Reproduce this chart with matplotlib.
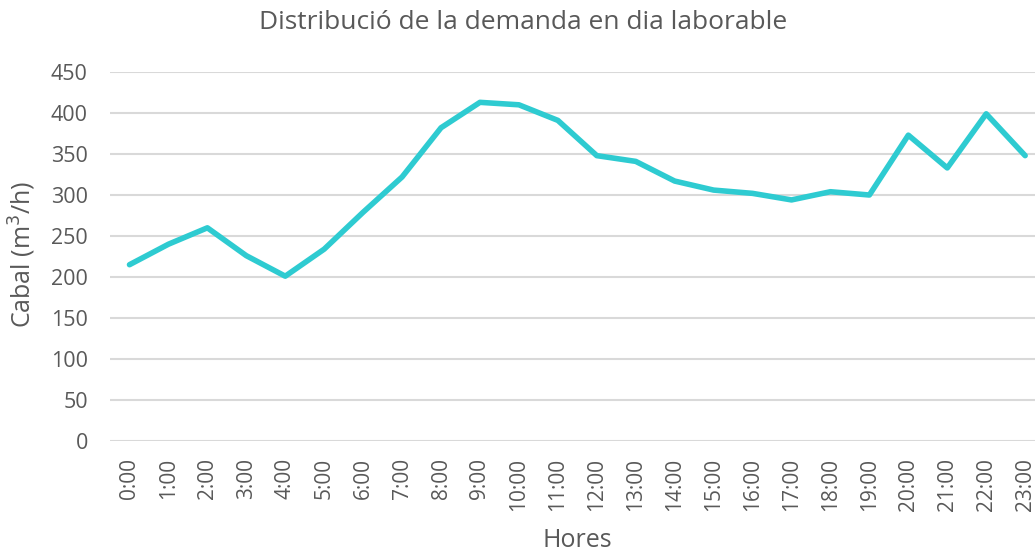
import matplotlib
matplotlib.use("Agg")
import matplotlib.pyplot as plt

hours = [f"{h}:00" for h in range(24)]
demand = [215, 240, 260, 226, 201, 234, 279, 322, 382, 413, 410, 391,
          348, 341, 317, 306, 302, 294, 304, 300, 373, 333, 399, 348]

grey = "#595959"
plt.rcParams["font.family"] = ["Open Sans", "DejaVu Sans"]

fig = plt.figure(figsize=(10.35, 5.53), dpi=100)
ax = fig.add_axes([0.1063, 0.2025, 0.903, 0.6673])

ax.plot(range(len(hours)), demand, color="#2ECBD1", linewidth=4,
        solid_joinstyle="round", solid_capstyle="round")

ax.set_xlim(-0.5, len(hours) - 0.5)
ax.set_ylim(0, 450)
ax.set_yticks(range(0, 451, 50))
ax.set_xticks(range(len(hours)))
ax.set_xticklabels(hours, rotation=90, fontsize=15, color=grey)
ax.tick_params(axis="y", labelsize=15.5, labelcolor=grey, length=0, pad=16)
ax.tick_params(axis="x", length=0, pad=12)

ax.grid(axis="y", color="#D9D9D9", linewidth=1.5)
ax.set_axisbelow(True)
for s in ax.spines.values():
    s.set_visible(False)

fig.text(0.022, 0.54, "Cabal (m$^3$/h)", fontsize=18, color=grey,
         rotation=90, ha="center", va="center")
fig.text(0.5575, 0.022, "Hores", fontsize=18, color=grey,
         ha="center", va="center")
fig.text(0.5053, 0.96, "Distribució de la demanda en dia laborable",
         fontsize=19, color=grey, ha="center", va="center")

fig.savefig("out.png", dpi=100)
